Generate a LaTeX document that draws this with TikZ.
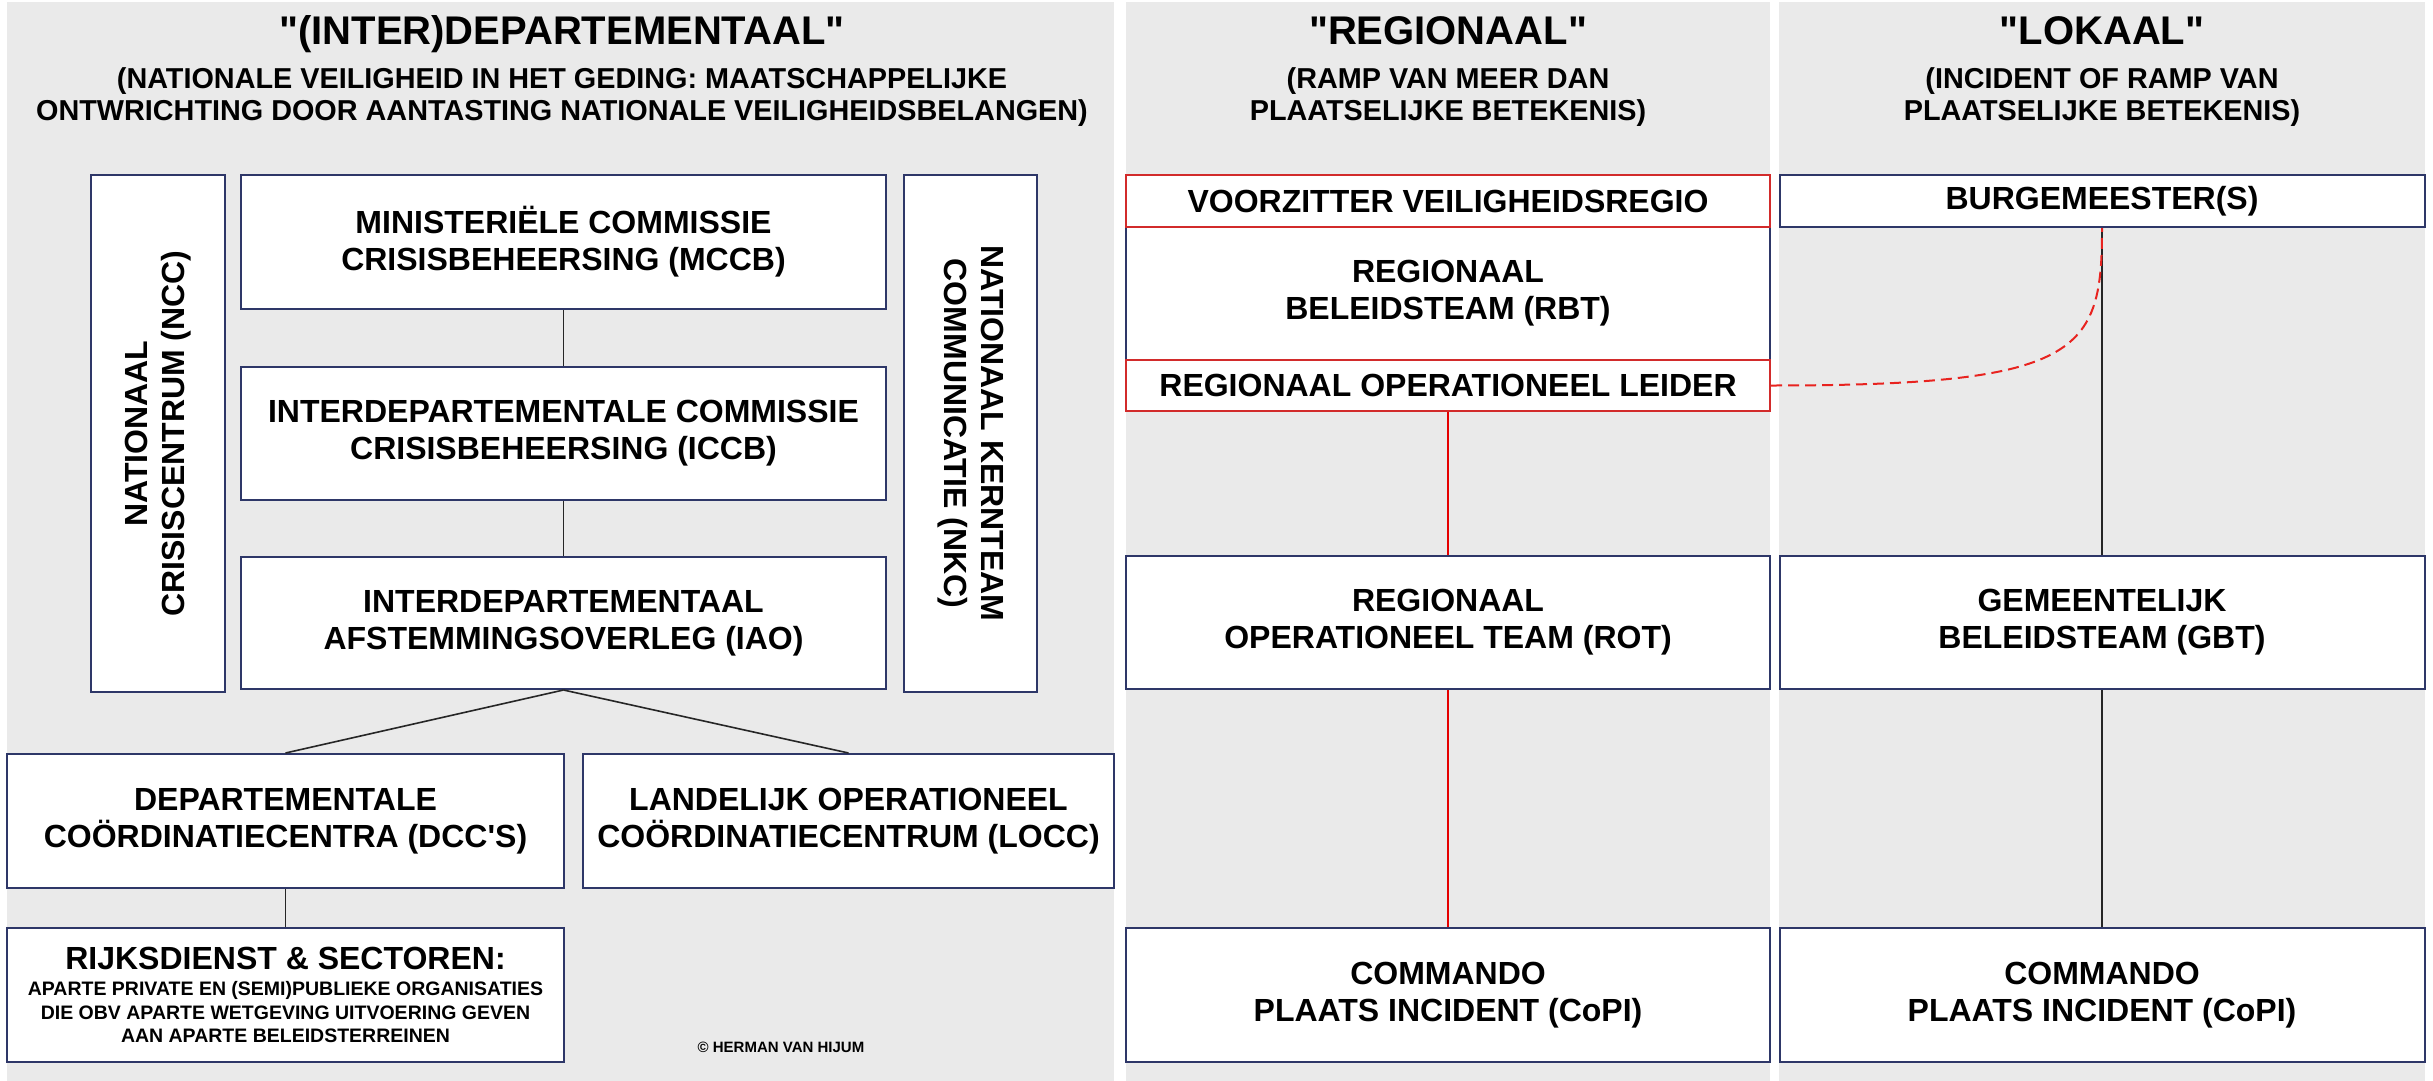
\documentclass[tikz,border=0pt]{standalone}
\usepackage{fontspec}
\setmainfont{Liberation Sans}

\definecolor{panelgray}{HTML}{EAEAEA}
\definecolor{boxnavy}{HTML}{2E3768}
\definecolor{boxred}{HTML}{D22B2B}
\definecolor{dashred}{HTML}{E8231F}

\tikzset{
  box/.style={draw=boxnavy, line width=2pt, fill=white, align=center, inner sep=0pt,
    font=\fontsize{32}{37}\selectfont\bfseries},
  redbox/.style={box, draw=boxred},
  title/.style={anchor=base, font=\fontsize{40}{46}\selectfont\bfseries},
  subtitle/.style={anchor=north, align=center, font=\fontsize{28.8}{32}\selectfont\bfseries},
  link/.style={line width=1.6pt, draw=black!85},
  redlink/.style={line width=1.3pt, draw=red!90!black},
}

\begin{document}
\begin{tikzpicture}[x=1pt,y=1pt,yscale=-1]
\useasboundingbox (0,0) rectangle (2433,1081);

% panels
\fill[panelgray] (7,2) rectangle (1114,1081);
\fill[panelgray] (1126,2) rectangle (1770,1081);
\fill[panelgray] (1779,2) rectangle (2425,1081);

% Titles
\node[title] (tinter) at (562,45) {\textquotedbl(INTER)DEPARTEMENTAAL\textquotedbl};
\node[subtitle] (sinter) at (562,64) {(NATIONALE VEILIGHEID IN HET GEDING: MAATSCHAPPELIJKE\\ONTWRICHTING DOOR AANTASTING NATIONALE VEILIGHEIDSBELANGEN)};
\node[title] (tregio) at (1448,45) {\textquotedbl REGIONAAL\textquotedbl};
\node[subtitle] (sregio) at (1448,64) {(RAMP VAN MEER DAN\\PLAATSELIJKE BETEKENIS)};
\node[title] (tlokaal) at (2102,45) {\textquotedbl LOKAAL\textquotedbl};
\node[subtitle] (slokaal) at (2102,64) {(INCIDENT OF RAMP VAN\\PLAATSELIJKE BETEKENIS)};

% (inter)departementaal
\node[box, rotate=90, minimum width=517, minimum height=134] (ncc) at (158,433.5) {NATIONAAL\\CRISISCENTRUM (NCC)};
\node[box, rotate=-90, minimum width=517, minimum height=133] (nkc) at (970.5,433.5) {NATIONAAL KERNTEAM\\COMMUNICATIE (NKC)};
\node[box, minimum width=645, minimum height=134] (mccb) at (563.5,242) {MINISTERIËLE COMMISSIE\\CRISISBEHEERSING (MCCB)};
\node[box, minimum width=645, minimum height=133] (iccb) at (563.5,433.5) {INTERDEPARTEMENTALE COMMISSIE\\CRISISBEHEERSING (ICCB)};
\node[box, minimum width=645, minimum height=132] (iao) at (563.5,623) {INTERDEPARTEMENTAAL\\AFSTEMMINGSOVERLEG (IAO)};
\node[box, minimum width=557, minimum height=134] (dcc) at (285.5,821) {DEPARTEMENTALE\\COÖRDINATIECENTRA (DCC\textquotesingle S)};
\node[box, minimum width=531, minimum height=134] (locc) at (848.5,821) {LANDELIJK OPERATIONEEL\\COÖRDINATIECENTRUM (LOCC)};
\node[box, minimum width=557, minimum height=134, font=\fontsize{19.5}{23.5}\selectfont\bfseries] (rijks) at (285.5,995)
  {{\fontsize{32}{37}\selectfont RIJKSDIENST \& SECTOREN:}\\[3pt]
   APARTE PRIVATE EN (SEMI)PUBLIEKE ORGANISATIES\\
   DIE OBV APARTE WETGEVING UITVOERING GEVEN\\
   AAN APARTE BELEIDSTERREINEN};
\node[anchor=base, font=\fontsize{15}{18}\selectfont\bfseries] (copy) at (781,1052) {© HERMAN VAN HIJUM};

\draw[link] (mccb) -- (iccb);
\draw[link] (iccb) -- (iao);
\draw[link] (iao.south) -- (dcc.north);
\draw[link] (iao.south) -- (locc.north);
\draw[link] (dcc) -- (rijks);

% regionaal
\node[box, minimum width=644, minimum height=236] (rbt) at (1448,293) {REGIONAAL\\BELEIDSTEAM (RBT)};
\node[redbox, minimum width=644, minimum height=52] (vvr) at (1448,201) {VOORZITTER VEILIGHEIDSREGIO};
\node[redbox, minimum width=644, minimum height=51] (rol) at (1448,385.5) {REGIONAAL OPERATIONEEL LEIDER};
\node[box, minimum width=644, minimum height=133] (rot) at (1448,622.5) {REGIONAAL\\OPERATIONEEL TEAM (ROT)};
\node[box, minimum width=644, minimum height=134] (copir) at (1448,995) {COMMANDO\\PLAATS INCIDENT (CoPI)};

\draw[redlink] (rol) -- (rot);
\draw[redlink] (rot) -- (copir);

% lokaal
\node[box, minimum width=645, minimum height=52] (burg) at (2102,201) {BURGEMEESTER(S)};
\node[box, minimum width=645, minimum height=133] (gbt) at (2102,622.5) {GEMEENTELIJK\\BELEIDSTEAM (GBT)};
\node[box, minimum width=645, minimum height=134] (copil) at (2102,995) {COMMANDO\\PLAATS INCIDENT (CoPI)};

\draw[link] (burg) -- (gbt);
\draw[link] (gbt) -- (copil);

% rol - burgemeester
\draw[dashred, line width=2pt, dash pattern={on 11pt off 6pt}] (rol.east) .. controls +(310,0) and +(0,125) .. (burg.south);

\end{tikzpicture}
\end{document}
